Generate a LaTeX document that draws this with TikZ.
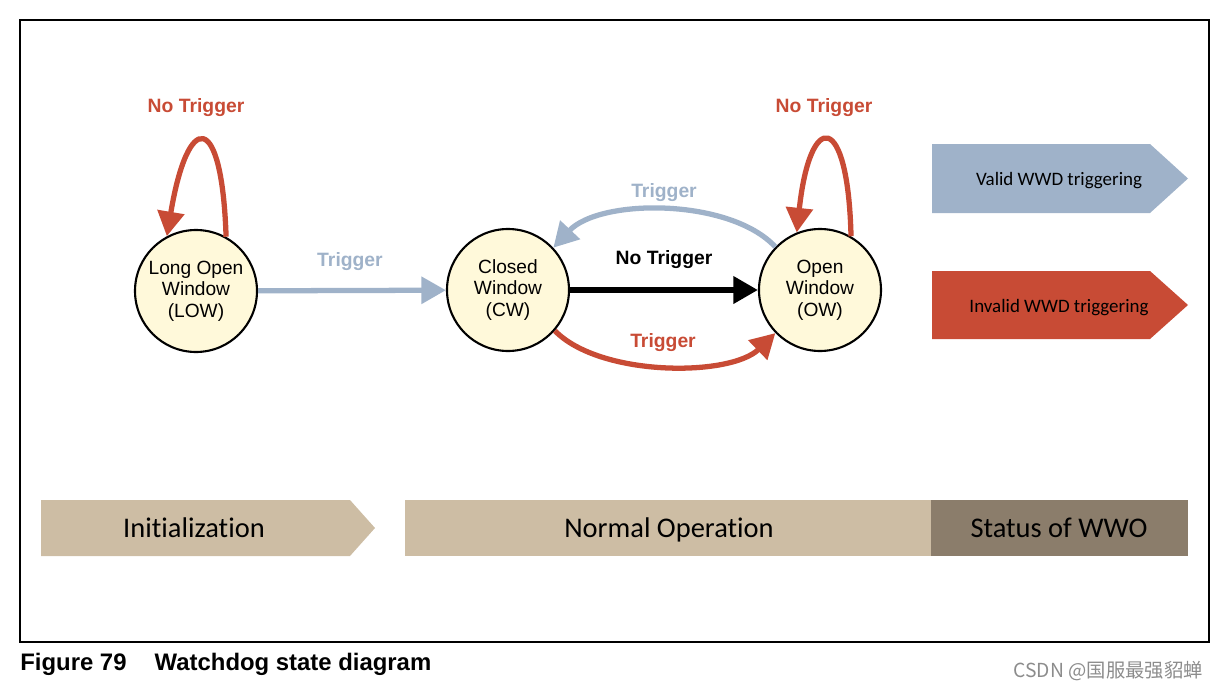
\documentclass[tikz,border=0pt]{standalone}
\usepackage{fontspec}
\setmainfont{Liberation Sans}
\newfontfamily\calib[Ligatures=NoCommon]{Carlito}
\newfontfamily\cjkf{Noto Sans CJK SC}
\usetikzlibrary{arrows.meta}
\definecolor{wred}{HTML}{C84B35}
\definecolor{wblue}{HTML}{9FB2C9}
\definecolor{wyel}{HTML}{FFF9DA}
\definecolor{wtan}{HTML}{CDBDA4}
\definecolor{wdark}{HTML}{8B7D6B}
\tikzset{
  x=0.02cm, y=-0.02cm,
  state/.style={circle, draw=black, line width=1.2pt, fill=wyel, minimum size=122*0.02cm, inner sep=0pt, align=center, font=\fontsize{10.9}{12.2}\selectfont},
  conn/.style={line width=3pt, -{Triangle[length=14pt,width=15pt]}},
  lab/.style={font=\fontsize{11}{13}\selectfont\bfseries},
  legtxt/.style={font=\calib\fontsize{10.8}{12}\selectfont},
  bartxt/.style={font=\calib\fontsize{16.2}{18}\selectfont},
}
\begin{document}
\begin{tikzpicture}
\useasboundingbox (0,0) rectangle (1218,690);
\draw[line width=0.6pt] (20,20) rectangle (1209,642);

% states
\node[state] (low) at (196,291) {Long Open\\Window\\(LOW)};
\node[state] (cw) at (508,290) {Closed\\Window\\(CW)};
\node[state] (ow) at (820,290) {Open\\Window\\(OW)};

% connectors
\draw[conn, wblue] (low) -- (cw);
\node[lab, text=wblue] (t1) at (350,262) {Trigger};
\draw[conn, black, line width=3.3pt] (cw) -- (ow);
\node[lab] (nt) at (664,260) {No Trigger};
\draw[conn, wblue] (ow.136) .. controls (730,198) and (600,198) .. (cw.43);
\node[lab, text=wblue] (t2) at (664,193) {Trigger};
\draw[conn, wred] (cw.-41) .. controls (600,377) and (730,377) .. (ow.-136);
\node[lab, text=wred] (t3) at (663,343) {Trigger};

% self loops
\draw[conn, wred] (low.61) .. controls (222,110) and (188,110) .. (low.118);
\node[lab, text=wred] (nt1) at (196,108) {No Trigger};
\draw[conn, wred] (ow.60) .. controls (848,110) and (810,110) .. (ow.112);
\node[lab, text=wred] (nt2) at (824,108) {No Trigger};

% legend
\fill[wblue] (932,144) -- (1150,144) -- (1188,178.5) -- (1150,213) -- (932,213) -- cycle;
\node[legtxt] (valid) at (1059,181) {Valid WWD triggering};
\fill[wred] (932,271) -- (1150,271) -- (1188,305) -- (1150,339) -- (932,339) -- cycle;
\node[legtxt] (invalid) at (1059,308) {Invalid WWD triggering};

% bottom bars
\fill[wtan] (41,500) -- (350,500) -- (375,528) -- (350,556) -- (41,556) -- cycle;
\node[bartxt, anchor=base] (init) at (194,537) {Initialization};
\fill[wtan] (405,500) rectangle (931,556);
\node[bartxt, anchor=base] (norm) at (669,537) {Normal Operation};
\fill[wdark] (931,500) rectangle (1188,556);
\node[bartxt, anchor=base] (stat) at (1059,537) {Status of WWO};

% caption
\node[anchor=base west, font=\fontsize{13.6}{15}\selectfont\bfseries, inner sep=0pt] (cap) at (20,670) {Figure 79\hspace{16pt}Watchdog state diagram};
\node[anchor=base east, font=\cjkf\fontsize{11}{13}\selectfont, text=black!45, inner sep=0pt] (wm) at (1203,677) {CSDN @国服最强貂蝉};
\end{tikzpicture}
\end{document}
